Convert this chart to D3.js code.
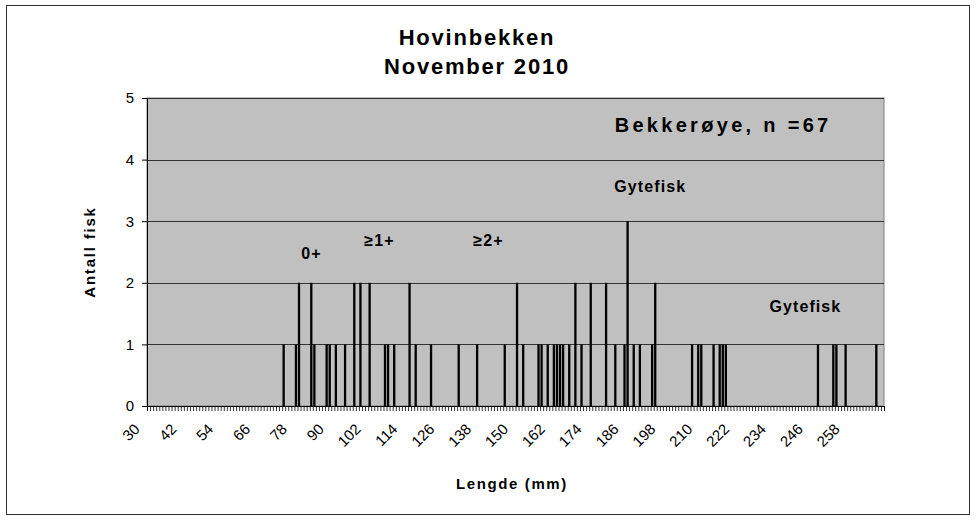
<!DOCTYPE html>
<html>
<head>
<meta charset="utf-8">
<script src="https://cdn.jsdelivr.net/npm/d3@7"></script>
<style>
  body { margin: 0; background: #fff; }
  text { font-family: "Liberation Sans", Arial, sans-serif; fill: #000; }
</style>
</head>
<body>
<div id="chart"></div>
<script>
const width = 977;
const height = 521;

// every mm from 30 to 269 is a category
const categories = d3.range(30, 270);
const tickLabels = [30, 42, 54, 66, 78, 90, 102, 114, 126, 138, 150, 162, 174, 186, 198, 210, 222, 234, 246, 258];
const yTicks = [0, 1, 2, 3, 4, 5];

// lengths (mm) that had fish, and how many
const lengths = [74, 78, 79, 83, 84, 88, 89, 91, 94, 97, 99, 102, 107, 108, 110, 115, 117, 122, 131, 137,
  146, 150, 152, 157, 158, 160, 162, 163, 164, 165, 167, 169, 171, 174, 179, 182, 185, 186, 188, 190,
  194, 195, 207, 209, 210, 214, 216, 217, 218, 248, 253, 254, 257, 267];
const counts = [1, 1, 2, 2, 1, 1, 1, 1, 1, 2, 2, 2, 1, 1, 1, 2, 1, 1, 1, 1,
  1, 2, 1, 1, 1, 1, 1, 1, 1, 1, 1, 2, 1, 2, 2, 1, 1, 3, 1, 1,
  1, 2, 1, 1, 1, 1, 1, 1, 1, 1, 1, 1, 1, 1];

// notes inside the plot, placed in data units (mm, antall)
const noteText = ["0+", "\u22651+", "\u22652+", "Gytefisk", "Gytefisk", "Bekker\u00f8ye, n =67"];
const noteMm = [83.6, 105.7, 141.2, 193.9, 244.4, 217.6];
const noteY = [2.39, 2.6, 2.6, 3.48, 1.53, 4.44];

const plot = { left: 147, right: 884, top: 98, bottom: 406 };

const svg = d3.select("#chart").append("svg")
    .attr("width", width)
    .attr("height", height);

// outer chart border
svg.append("rect")
    .attr("x", 6.5).attr("y", 5.5)
    .attr("width", 963).attr("height", 509)
    .attr("fill", "#fff")
    .attr("stroke", "#333");

var x = d3.scaleBand()
    .domain(categories)
    .range([plot.left, plot.right])
    .paddingInner(0.25)
    .paddingOuter(0.125);

// category boundaries for the small ticks
var xEdge = d3.scaleLinear()
    .domain([30, 270])
    .range([plot.left, plot.right]);

var y = d3.scaleLinear()
    .domain([0, 5])
    .range([plot.bottom, plot.top]);

svg.append("rect")
    .attr("x", plot.left).attr("y", plot.top)
    .attr("width", plot.right - plot.left)
    .attr("height", plot.bottom - plot.top)
    .attr("fill", "#c0c0c0")
    .attr("stroke", "#808080");

svg.append("g")
    .selectAll("line")
    .data(yTicks.slice(1))
    .enter().append("line")
    .attr("x1", plot.left).attr("x2", plot.right)
    .attr("y1", d => Math.round(y(d)) + 0.5)
    .attr("y2", d => Math.round(y(d)) + 0.5)
    .attr("stroke", "#333");

var data = lengths.map(function (d, i) { return { mm: d, n: counts[i] }; });

svg.append("g")
    .selectAll("rect")
    .data(data)
    .enter().append("rect")
    .attr("x", d => x(d.mm))
    .attr("width", x.bandwidth())
    .attr("y", d => y(d.n))
    .attr("height", d => y(0) - y(d.n))
    .attr("fill", "#000");

// y axis
var yAxis = svg.append("g")
    .attr("transform", "translate(" + plot.left + ",0)")
    .call(d3.axisLeft(y).tickValues(yTicks).tickSize(5).tickPadding(8).tickFormat(d3.format("d")));
yAxis.select(".domain").attr("stroke", "#000");
yAxis.selectAll("text").style("font-size", "15px");

// x axis: small ticks on each mm
var xAxis = svg.append("g")
    .attr("transform", "translate(0," + plot.bottom + ")")
    .call(d3.axisBottom(xEdge).tickValues(d3.range(30, 271)).tickSize(5).tickFormat(""));
xAxis.select(".domain").attr("stroke", "#000");
xAxis.selectAll(".tick line").attr("stroke", "#000").attr("stroke-width", 0.8);

svg.append("g")
    .selectAll("text")
    .data(tickLabels)
    .enter().append("text")
    .attr("transform", d => "translate(" + (x(d) + x.bandwidth() / 2 - 8) + ",430) rotate(-45)")
    .attr("text-anchor", "end")
    .style("font-size", "15px")
    .text(d => d);

// titles
svg.append("text")
    .attr("x", 477).attr("y", 45)
    .attr("text-anchor", "middle")
    .style("font-size", "22px").style("font-weight", "bold").style("letter-spacing", "1.8px")
    .text("Hovinbekken");
svg.append("text")
    .attr("x", 477).attr("y", 74)
    .attr("text-anchor", "middle")
    .style("font-size", "22px").style("font-weight", "bold").style("letter-spacing", "1.8px")
    .text("November 2010");

svg.append("text")
    .attr("transform", "translate(95,252) rotate(-90)")
    .attr("text-anchor", "middle")
    .style("font-size", "15px").style("font-weight", "bold").style("letter-spacing", "1.8px")
    .text("Antall fisk");

svg.append("text")
    .attr("x", 512).attr("y", 489)
    .attr("text-anchor", "middle")
    .style("font-size", "15px").style("font-weight", "bold").style("letter-spacing", "1.6px")
    .text("Lengde (mm)");

svg.append("g")
    .selectAll("text")
    .data(noteText)
    .enter().append("text")
    .attr("x", (d, i) => xEdge(noteMm[i]))
    .attr("y", (d, i) => y(noteY[i]))
    .attr("text-anchor", "middle")
    .style("font-size", (d, i) => i == 5 ? "20px" : "16px")
    .style("font-weight", "bold")
    .style("letter-spacing", (d, i) => i == 5 ? "3.3px" : "1.1px")
    .text(d => d);
</script>
</body>
</html>
